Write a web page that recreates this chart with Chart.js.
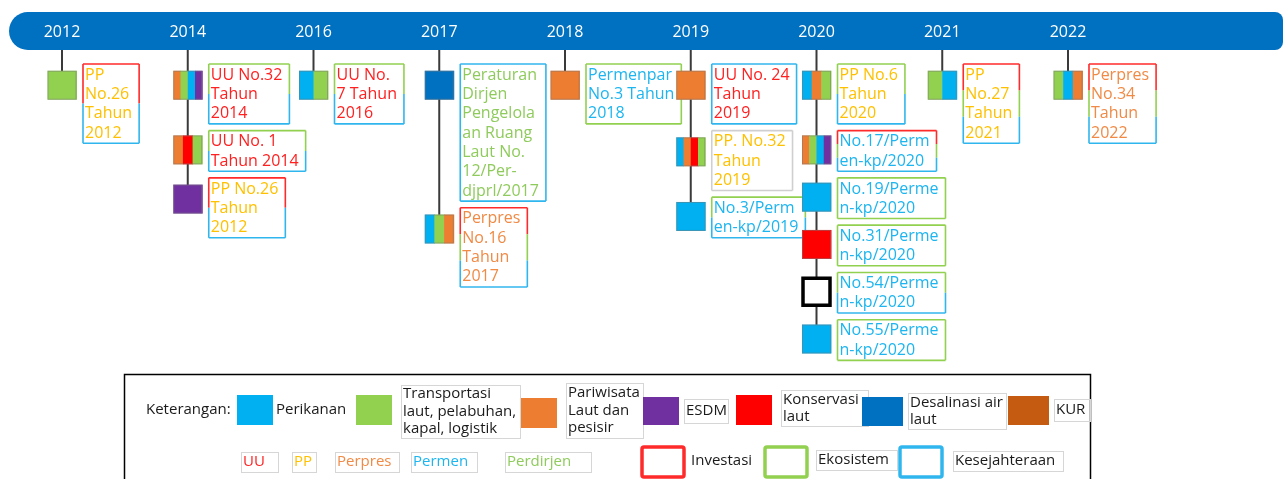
<!DOCTYPE html>
<html>
<head>
<meta charset="utf-8">
<script src="https://cdn.jsdelivr.net/npm/chart.js@4.4.1/dist/chart.umd.min.js"></script>
<style>
  html, body { margin: 0; padding: 0; background: #fff; }
  #wrap { width: 1284px; height: 479px; overflow: hidden; }
</style>
</head>
<body>
<div id="wrap"><canvas id="timeline" width="1284" height="479"></canvas></div>
<script>
// timeline columns
const years = ['2012', '2014', '2016', '2017', '2018', '2019', '2020', '2021', '2022'];

// regulations, top to bottom under each year
const docYear = ['2012', '2014', '2014', '2014', '2016', '2017', '2017', '2018', '2019', '2019',
  '2019', '2020', '2020', '2020', '2020', '2020', '2020', '2021', '2022'];
const docTitle = [
  'PP\nNo.26\nTahun\n2012',
  'UU No.32\nTahun\n2014',
  'UU No. 1\nTahun 2014',
  'PP No.26\nTahun\n2012',
  'UU No.\n7 Tahun\n2016',
  'Peraturan\nDirjen\nPengelola\nan Ruang\nLaut No.\n12/Per-\ndjprl/2017',
  'Perpres\nNo.16\nTahun\n2017',
  'Permenpar\nNo.3 Tahun\n2018',
  'UU No. 24\nTahun\n2019',
  'PP. No.32\nTahun\n2019',
  'No.3/Perm\nen-kp/2019',
  'PP No.6\nTahun\n2020',
  'No.17/Perm\nen-kp/2020',
  'No.19/Perme\nn-kp/2020',
  'No.31/Perme\nn-kp/2020',
  'No.54/Perme\nn-kp/2020',
  'No.55/Perme\nn-kp/2020',
  'PP\nNo.27\nTahun\n2021',
  'Perpres\nNo.34\nTahun\n2022'
];
const docType = ['PP', 'UU', 'UU', 'PP', 'UU', 'Perdirjen', 'Perpres', 'Permen', 'UU', 'PP',
  'Permen', 'PP', 'Permen', 'Permen', 'Permen', 'Permen', 'Permen', 'PP', 'Perpres'];
// sectors shown as stripes in the square
const docSectors = [
  ['transport'],
  ['tourism', 'transport', 'fish', 'esdm'],
  ['tourism', 'conservation', 'transport'],
  ['esdm'],
  ['fish', 'transport'],
  ['desal'],
  ['fish', 'transport', 'tourism'],
  ['tourism'],
  ['tourism'],
  ['fish', 'tourism', 'conservation', 'transport'],
  ['fish'],
  ['fish', 'tourism', 'transport'],
  ['tourism', 'transport', 'fish', 'esdm'],
  ['fish'],
  ['conservation'],
  [],
  ['fish'],
  ['transport', 'fish'],
  ['transport', 'fish', 'tourism']
];
// goals shown as the box border, top to bottom
const docGoals = [
  ['invest', 'welfare'],
  ['eco', 'welfare'],
  ['eco', 'welfare'],
  ['invest', 'welfare'],
  ['eco', 'welfare'],
  ['welfare'],
  ['invest', 'eco', 'welfare'],
  ['eco'],
  ['welfare'],
  [],
  ['eco', 'welfare'],
  ['eco', 'welfare'],
  ['invest', 'eco', 'welfare'],
  ['eco'],
  ['eco'],
  ['eco', 'welfare'],
  ['eco'],
  ['invest', 'eco', 'welfare'],
  ['invest', 'eco', 'welfare']
];

// legend
const sectorKeys = ['fish', 'transport', 'tourism', 'esdm', 'conservation', 'desal', 'kur'];
const sectorNames = ['Perikanan', 'Transportasi\nlaut, pelabuhan,\nkapal, logistik', 'Pariwisata\nLaut dan\npesisir',
  'ESDM', 'Konservasi\nlaut', 'Desalinasi air\nlaut', 'KUR'];
const typeNames = ['UU', 'PP', 'Perpres', 'Permen', 'Perdirjen'];
const goalKeys = ['invest', 'eco', 'welfare'];
const goalNames = ['Investasi', 'Ekosistem', 'Kesejahteraan'];

// styles
const sectorColor = { fish: '#00B0F0', transport: '#92D050', tourism: '#ED7D31', esdm: '#7030A0',
  conservation: '#FF0000', desal: '#0070C0', kur: '#C55A11' };
const typeColor = { UU: '#FF2020', PP: '#FFC000', Perpres: '#F08A45', Permen: '#1DB5F0', Perdirjen: '#8FCB5C' };
const goalColor = { invest: '#FF2A2A', eco: '#92D050', welfare: '#30B6EE' };
const FONT = '"Open Sans", "Noto Sans", sans-serif';
const lineH = 19.3;
const yMax = 16;
const topPad = 64;

// stack boxes under each year from their line counts
const used = {};
const points = docTitle.map((t, i) => {
  const lines = t.split('\n').length;
  const top = used[docYear[i]] || 0;
  used[docYear[i]] = top + lines + 0.45;
  return { x: docYear[i], y: top + Math.min(lines / 2, 1.1), top: top, lines: lines };
});

function drawSquare(ctx, cx, cy, keys) {
  const s = 29, x0 = cx - s / 2, y0 = cy - s / 2;
  if (!keys.length) {
    ctx.fillStyle = '#fff';
    ctx.fillRect(x0, y0, s, s);
    ctx.lineWidth = 3.5;
    ctx.strokeStyle = '#000';
    ctx.strokeRect(x0 + 1, y0 + 1, s - 2, s - 2);
    return;
  }
  const w = s / keys.length;
  keys.forEach((k, j) => {
    ctx.fillStyle = sectorColor[k];
    ctx.fillRect(x0 + j * w, y0, w + 0.5, s);
  });
  ctx.lineWidth = 1;
  ctx.strokeStyle = 'rgba(120,120,120,0.5)';
  ctx.strokeRect(x0 + 0.5, y0 + 0.5, s - 1, s - 1);
}

function drawGoalBox(ctx, x0, y0, w, h, goals) {
  const cols = goals.length ? goals.map((g) => goalColor[g]) : ['#CFCFCF'];
  const seg = h / cols.length;
  ctx.lineWidth = 1.6;
  cols.forEach((c, j) => {
    ctx.strokeStyle = c;
    ctx.beginPath();
    ctx.moveTo(x0, y0 + j * seg);
    ctx.lineTo(x0, y0 + (j + 1) * seg);
    ctx.moveTo(x0 + w, y0 + j * seg);
    ctx.lineTo(x0 + w, y0 + (j + 1) * seg);
    ctx.stroke();
  });
  ctx.strokeStyle = cols[0];
  ctx.beginPath(); ctx.moveTo(x0, y0); ctx.lineTo(x0 + w, y0); ctx.stroke();
  ctx.strokeStyle = cols[cols.length - 1];
  ctx.beginPath(); ctx.moveTo(x0, y0 + h); ctx.lineTo(x0 + w, y0 + h); ctx.stroke();
}

function labelBox(ctx, text, x0, y0, w, h, color, boxed) {
  const lines = text.split('\n');
  const lh = 17.5;
  const startY = y0 + h / 2 - (lines.length - 1) * lh / 2;
  if (boxed) {
    ctx.lineWidth = 1;
    ctx.strokeStyle = '#D6D6D6';
    ctx.strokeRect(x0 + 0.5, y0 + 0.5, w, h);
  }
  ctx.fillStyle = color;
  lines.forEach((l, k) => ctx.fillText(l, x0 + 2, startY + k * lh));
}

const timelinePlugin = {
  id: 'timeline',
  beforeDatasetsDraw(chart) {
    const { ctx, scales: { x } } = chart;
    ctx.save();
    ctx.fillStyle = '#0070C0';
    ctx.beginPath();
    ctx.roundRect(9, 12, 1274, 38, [19, 8, 8, 19]);
    ctx.fill();
    ctx.fillStyle = '#fff';
    ctx.font = '16px ' + FONT;
    ctx.textAlign = 'center';
    ctx.textBaseline = 'middle';
    years.forEach((yr, i) => ctx.fillText(yr, x.getPixelForValue(i), 32));
    ctx.restore();
  },
  afterDatasetsDraw(chart) {
    const { ctx, scales: { y } } = chart;
    const meta = chart.getDatasetMeta(0);
    ctx.save();

    // connectors from the bar down to the last square of each year
    years.forEach((yr) => {
      const idx = docYear.map((d, i) => (d === yr ? i : -1)).filter((i) => i >= 0);
      if (!idx.length) return;
      const last = meta.data[idx[idx.length - 1]];
      ctx.strokeStyle = '#3a3a3a';
      ctx.lineWidth = 2;
      ctx.beginPath();
      ctx.moveTo(last.x, 50);
      ctx.lineTo(last.x, last.y - 14);
      ctx.stroke();
    });

    ctx.font = '16px ' + FONT;
    ctx.textAlign = 'left';
    ctx.textBaseline = 'middle';
    meta.data.forEach((pt, i) => {
      const raw = points[i];
      drawSquare(ctx, pt.x, pt.y, docSectors[i]);
      const lines = docTitle[i].split('\n');
      const left = pt.x + 21;
      const top = y.getPixelForValue(raw.top);
      const w = Math.max(...lines.map((l) => ctx.measureText(l).width)) + 9;
      const h = raw.lines * lineH + 2;
      ctx.fillStyle = '#fff';
      ctx.fillRect(left, top, w, h);
      ctx.fillStyle = typeColor[docType[i]];
      lines.forEach((l, k) => ctx.fillText(l, left + 2, top + lineH * (k + 0.5) + 1.5));
      drawGoalBox(ctx, left, top, w, h, docGoals[i]);
    });
    ctx.restore();
  },
  afterDraw(chart) {
    const ctx = chart.ctx;
    ctx.save();
    ctx.lineWidth = 1.5;
    ctx.strokeStyle = '#000';
    ctx.strokeRect(124.5, 374.5, 966, 120);

    ctx.font = '15px ' + FONT;
    ctx.textAlign = 'left';
    ctx.textBaseline = 'middle';
    ctx.fillStyle = '#1a1a1a';
    ctx.fillText('Keterangan:', 146, 410);

    // sector swatches and their labels
    const swatch = [[237, 395, 36, 30], [356, 395, 36, 30], [521, 398, 36, 30], [643, 397, 36, 28],
      [736, 395, 36, 30], [862, 397, 41, 29], [1008, 396, 41, 29]];
    const label = [[274, 398, 74, 24, false], [401, 385, 119, 53, true], [566, 383, 77, 55, true],
      [684, 399, 44, 24, true], [781, 390, 87, 36, true], [908, 393, 98, 36, true], [1054, 399, 36, 22, true]];
    sectorKeys.forEach((k, i) => {
      const [sx, sy, sw, sh] = swatch[i];
      ctx.fillStyle = sectorColor[k];
      ctx.fillRect(sx, sy, sw, sh);
      const [lx, ly, lw, lh, boxed] = label[i];
      labelBox(ctx, sectorNames[i], lx, ly, lw, lh, '#1a1a1a', boxed);
    });

    // regulation types
    const typeBox = [[241, 452, 37], [292, 452, 24], [335, 452, 64], [411, 452, 66], [505, 452, 86]];
    typeNames.forEach((t, i) => {
      const [tx, ty, tw] = typeBox[i];
      labelBox(ctx, t, tx, ty, tw, 20, typeColor[t], true);
    });

    // goals
    const goalSw = [642, 765, 900];
    const goalLbl = [[689, 451, 70, 20, false], [816, 450, 81, 20, true], [953, 451, 110, 20, true]];
    goalKeys.forEach((g, i) => {
      ctx.lineWidth = 3.5;
      ctx.strokeStyle = goalColor[g];
      ctx.beginPath();
      ctx.roundRect(goalSw[i], 447, 42, 30, 2);
      ctx.stroke();
      const [gx, gy, gw, gh, boxed] = goalLbl[i];
      labelBox(ctx, goalNames[i], gx, gy, gw, gh, '#1a1a1a', boxed);
    });
    ctx.restore();
  }
};

function build() {
  new Chart(document.getElementById('timeline'), {
    type: 'scatter',
    data: { datasets: [{ data: points, pointRadius: 0, pointHoverRadius: 0 }] },
    options: {
      responsive: false,
      animation: false,
      events: [],
      layout: { padding: { left: 62, right: 216, top: topPad, bottom: 479 - topPad - yMax * lineH } },
      plugins: { legend: { display: false }, tooltip: { enabled: false } },
      scales: {
        x: { type: 'category', labels: years, display: false, offset: false },
        y: { type: 'linear', reverse: true, min: 0, max: yMax, display: false }
      }
    },
    plugins: [timelinePlugin]
  });
}

if (document.fonts && document.fonts.load) {
  Promise.all([document.fonts.load('16px "Open Sans"'), document.fonts.load('15px "Open Sans"')])
    .then(build, build);
} else {
  build();
}
</script>
</body>
</html>
